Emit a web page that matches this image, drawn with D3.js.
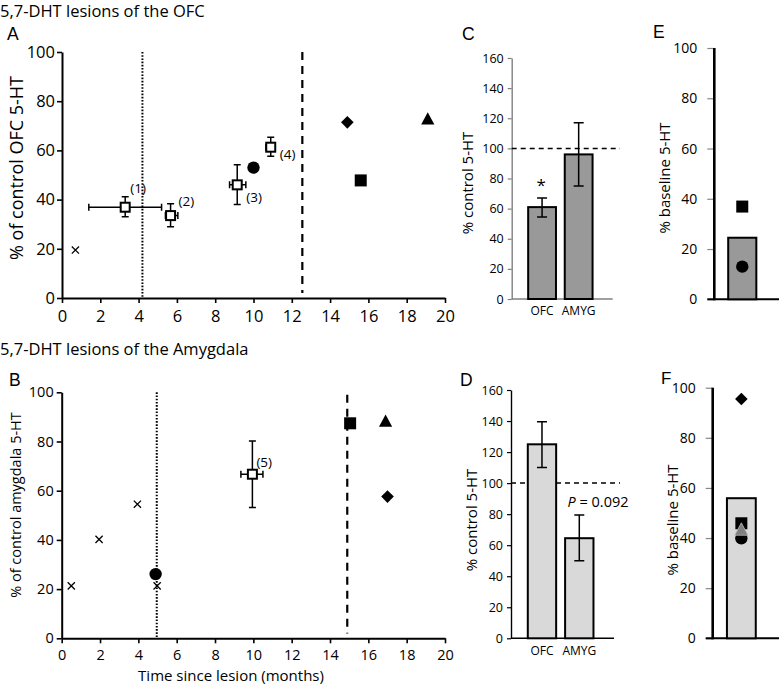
<!DOCTYPE html>
<html><head><meta charset="utf-8">
<script src="https://cdn.jsdelivr.net/npm/d3@7"></script>
<style>
body{margin:0;background:#fff}
svg{display:block}
text{font-family:'Open Sans',sans-serif;fill:#000}
.letter{font-family:'Liberation Sans',Arial,sans-serif}
</style>
</head><body><svg id="c" width="780" height="693"></svg>
<script>
// ---------------- DATA ----------------
const timeTicks = [0,2,4,6,8,10,12,14,16,18,20];
const pctTicks = [0,20,40,60,80,100];
const barTicks = [0,20,40,60,80,100,120,140,160];

const aCrosses = [{t:0.7, v:19.5}];
const aStudies = [
  {label:"(1)", t:3.3,  v:36.9, tLo:1.4,  tHi:5.2,  vLo:33.0, vHi:41.2},
  {label:"(2)", t:5.67, v:33.5, tLo:5.4,  tHi:6.05, vLo:29.0, vHi:38.3},
  {label:"(3)", t:9.15, v:46.0, tLo:8.75, tHi:9.6,  vLo:38.0, vHi:54.2},
  {label:"(4)", t:10.9, v:61.3, tLo:10.65,tHi:11.1, vLo:57.6, vHi:65.3}
];
const aFilled = [
  {shape:"circle",  t:10.0, v:53.0},
  {shape:"diamond", t:14.9, v:71.4},
  {shape:"square",  t:15.6, v:47.8},
  {shape:"triangle",t:19.1, v:73.0}
];
const aDotted = 4.2, aDashed = 12.55;

const bCrosses = [{t:0.5,v:21.3},{t:1.95,v:40.2},{t:3.95,v:54.5},{t:4.98,v:21.3}];
const bStudies = [{label:"(5)", t:9.95, v:66.7, tLo:9.35, tHi:10.5, vLo:53.2, vHi:80.2}];
const bFilled = [
  {shape:"circle",  t:4.9,  v:26.1},
  {shape:"square",  t:15.05,v:87.4},
  {shape:"triangle",t:16.9, v:88.5},
  {shape:"diamond", t:17.0, v:57.6}
];
const bDotted = 4.96, bDashed = 14.9;

const regions = ["OFC","AMYG"];
const cMeans = [61, 96],   cLo = [54.5, 75],  cHi = [67, 117];
const dMeans = [125, 64.5], dLo = [110, 50],  dHi = [139.5, 79.5];
const controlLevel = 100;

const eBar = 24.5;
const ePoints = [{shape:"square",v:36.9},{shape:"circle",v:13.0}];
const fBar = 55.9;
const fPoints = [{shape:"diamond",v:95.5},{shape:"square",v:45.9},{shape:"circle",v:39.9},{shape:"triangle",v:43.6,gray:true}];

// ---------------- DRAW ----------------
const svg = d3.select("#c");

function marker(g, shape, cx, cy, fill, stroke) {
  fill = fill || "#000";
  if (shape === "circle") {
    g.append("circle").attr("cx",cx).attr("cy",cy).attr("r",6.2).attr("fill",fill);
  } else if (shape === "square") {
    g.append("rect").attr("x",cx-6).attr("y",cy-6).attr("width",12).attr("height",12).attr("fill",fill);
  } else if (shape === "diamond") {
    const h = 6.3;
    g.append("path").attr("d",`M${cx},${cy-h}L${cx+h},${cy}L${cx},${cy+h}L${cx-h},${cy}Z`).attr("fill",fill);
  } else if (shape === "triangle") {
    const w = 6.6, hh = 6.2;
    g.append("path").attr("d",`M${cx},${cy-hh}L${cx+w},${cy+hh}L${cx-w},${cy+hh}Z`).attr("fill",fill)
      .attr("stroke",stroke||"none").attr("stroke-width",stroke?0.8:0);
  }
}
function cross(g, cx, cy) {
  const h = 3.6;
  g.append("path").attr("d",`M${cx-h},${cy-h}L${cx+h},${cy+h}M${cx-h},${cy+h}L${cx+h},${cy-h}`)
    .attr("stroke","#000").attr("stroke-width",1.3).attr("fill","none");
}

function scatterPanel(o) {
  const x = d3.scaleLinear().domain([0,20]).range([o.x0, o.x1]);
  const y = d3.scaleLinear().domain([0,100]).range([o.y0, o.y1]);
  const g = svg.append("g");
  g.append("line").attr("x1",x(o.dotted)).attr("x2",x(o.dotted)).attr("y1",y(100)).attr("y2",y(0))
    .attr("stroke","#000").attr("stroke-width",2).attr("stroke-dasharray","1.6,1.6");
  g.append("line").attr("x1",x(o.dashed)).attr("x2",x(o.dashed)).attr("y1",y(o.dashTop)).attr("y2",y(2))
    .attr("stroke","#000").attr("stroke-width",2.2).attr("stroke-dasharray","8,6");
  const ax = g.append("g").attr("transform",`translate(0,${o.y0})`)
    .call(d3.axisBottom(x).tickValues(timeTicks).tickSize(5).tickPadding(o.xPad).tickSizeOuter(0));
  const ay = g.append("g").attr("transform",`translate(${o.x0},0)`)
    .call(d3.axisLeft(y).tickValues(pctTicks).tickSize(5).tickPadding(o.yPad).tickSizeOuter(0));
  [ax,ay].forEach(a=>{
    a.select(".domain").attr("stroke","#000").attr("stroke-width",2);
    a.selectAll(".tick line").attr("stroke","#000").attr("stroke-width",1.6);
    a.selectAll(".tick text").style("font-family","'Open Sans',sans-serif").style("font-size",o.tickFont+"px").attr("fill","#222");
  });
  o.crosses.forEach(d=>cross(g, x(d.t), y(d.v)));
  o.studies.forEach((d,i)=>{
    const cx=x(d.t), cy=y(d.v);
    const eb = g.append("g").attr("stroke","#000").attr("stroke-width",1.5).attr("fill","none");
    eb.append("path").attr("d",`M${cx},${y(d.vLo)}V${y(d.vHi)}M${cx-3.5},${y(d.vLo)}H${cx+3.5}M${cx-3.5},${y(d.vHi)}H${cx+3.5}`);
    eb.append("path").attr("d",`M${x(d.tLo)},${cy}H${x(d.tHi)}M${x(d.tLo)},${cy-3.5}V${cy+3.5}M${x(d.tHi)},${cy-3.5}V${cy+3.5}`);
    g.append("rect").attr("x",cx-4.5).attr("y",cy-4.5).attr("width",9).attr("height",9)
      .attr("fill","#fff").attr("stroke","#000").attr("stroke-width",2);
    const off = o.labelOff[i];
    g.append("text").attr("x",cx+off[0]).attr("y",cy+off[1]).attr("dy","0.35em")
      .style("font-size","13.5px").text(d.label);
  });
  o.filled.forEach(d=>marker(g, d.shape, x(d.t), y(d.v)));
  return {x,y,g};
}

scatterPanel({x0:62,x1:445,y0:298,y1:52,dotted:aDotted,dashed:aDashed,dashTop:100,tickFont:16.5,xPad:7,yPad:2,
  crosses:aCrosses,studies:aStudies,filled:aFilled,
  labelOff:[[5,-19],[8,-14],[9,12],[9,7]]});
scatterPanel({x0:61.7,x1:445,y0:638.3,y1:392.3,dotted:bDotted,dashed:bDashed,dashTop:99,tickFont:14.5,xPad:6,yPad:3,
  crosses:bCrosses,studies:bStudies,filled:bFilled,
  labelOff:[[4,-12]]});

function barPanel(o) {
  const x = d3.scaleBand().domain(regions).range([o.ax, o.axEnd]).paddingInner(0.24).paddingOuter(0.5).align(0.45);
  const y = d3.scaleLinear().domain([0,160]).range([o.y0, o.y1]);
  const g = svg.append("g");
  const ay = g.append("g").attr("transform",`translate(${o.ax},0)`)
    .call(d3.axisLeft(y).tickValues(barTicks).tickSize(4).tickPadding(4).tickSizeOuter(0));
  ay.select(".domain").attr("stroke",o.axisColor).attr("stroke-width",1.4);
  ay.selectAll(".tick line").attr("stroke",o.axisColor).attr("stroke-width",1.2);
  ay.selectAll(".tick text").style("font-family","'Open Sans',sans-serif").style("font-size","12.5px").attr("fill","#222");
  g.append("line").attr("x1",o.ax).attr("x2",o.axEnd).attr("y1",o.y0).attr("y2",o.y0)
    .attr("stroke",o.axisColor).attr("stroke-width",1.4);
  g.append("line").attr("x1",o.ax).attr("x2",o.dashEnd).attr("y1",y(controlLevel)).attr("y2",y(controlLevel))
    .attr("stroke","#000").attr("stroke-width",1.5).attr("stroke-dasharray","5,4");
  g.selectAll(".bar").data(regions).join("rect")
    .attr("x",d=>x(d)).attr("width",x.bandwidth())
    .attr("y",(d,i)=>y(o.means[i])).attr("height",(d,i)=>y(0)-y(o.means[i]))
    .attr("fill",o.fill).attr("stroke","#000").attr("stroke-width",2);
  regions.forEach((r,i)=>{
    const cx = x(r)+x.bandwidth()/2;
    g.append("path").attr("d",`M${cx},${y(o.lo[i])}V${y(o.hi[i])}M${cx-5},${y(o.lo[i])}H${cx+5}M${cx-5},${y(o.hi[i])}H${cx+5}`)
      .attr("stroke","#000").attr("stroke-width",1.5).attr("fill","none");
    g.append("text").attr("x",cx).attr("y",o.y0+12).attr("dy","0.35em").attr("text-anchor","middle")
      .style("font-size","12px").text(r);
  });
  return {x,y,g};
}

const C = barPanel({ax:511.7,axEnd:612.7,y0:299,y1:58,axisColor:"#808080",fill:"#999999",dashEnd:620,
  means:cMeans,lo:cLo,hi:cHi});
C.g.append("text").attr("x",C.x("OFC")+C.x.bandwidth()/2-1).attr("y",C.y(cHi[0])-13).attr("dy","0.35em")
  .attr("text-anchor","middle").style("font-size","17px").text("*");

const D = barPanel({ax:511,axEnd:614,y0:638.3,y1:390,axisColor:"#000",fill:"#d9d9d9",dashEnd:620,
  means:dMeans,lo:dLo,hi:dHi});
const pt = D.g.append("text").attr("x",567.5).attr("y",D.y(controlLevel)+19).attr("dy","0.35em")
  .style("font-size","14.5px");
pt.append("tspan").style("font-style","italic").text("P");
pt.append("tspan").text(" = 0.092");

function basePanel(o) {
  const x = d3.scaleBand().domain(["all"]).range([o.ax, 779]).paddingInner(0).paddingOuter(0.65).align(0.38);
  const y = d3.scaleLinear().domain([0,100]).range([o.y0, o.y1]);
  const g = svg.append("g");
  const ay = g.append("g").attr("transform",`translate(${o.ax},0)`)
    .call(d3.axisLeft(y).tickValues(pctTicks).tickSize(7).tickPadding(10).tickSizeOuter(0));
  ay.select(".domain").remove();
  ay.selectAll(".tick line").attr("stroke","#888").attr("stroke-width",1.2);
  ay.selectAll(".tick text").style("font-family","'Open Sans',sans-serif").style("font-size","14px").attr("fill","#222");
  g.append("line").attr("x1",o.ax-7).attr("x2",779).attr("y1",o.y0).attr("y2",o.y0).attr("stroke","#000").attr("stroke-width",2);
  g.append("line").attr("x1",o.ax).attr("x2",o.ax).attr("y1",y(100)).attr("y2",o.y0+1).attr("stroke","#000").attr("stroke-width",2.6);
  g.append("rect").attr("x",x("all")).attr("width",x.bandwidth()).attr("y",y(o.bar)).attr("height",y(0)-y(o.bar))
    .attr("fill",o.fill).attr("stroke","#000").attr("stroke-width",2);
  const cx = x("all")+x.bandwidth()/2;
  o.points.forEach(p=>marker(g, p.shape, cx, y(p.v), p.gray?"#7f7f7f":"#000", p.gray?"#bbb":null));
  return {x,y,g};
}
basePanel({ax:714.3,y0:299.3,y1:48,bar:eBar,points:ePoints,fill:"#999999"});
basePanel({ax:712.7,y0:638.3,y1:387.7,bar:fBar,points:fPoints,fill:"#d9d9d9"});

// ---------------- TEXT ----------------
function txt(x,y,s,size,cls,anchor){
  return svg.append("text").attr("x",x).attr("y",y).attr("class",cls||null)
    .attr("text-anchor",anchor||"start").style("font-size",size+"px").text(s);
}
function vtxt(cx,cy,s,size){
  return svg.append("text").attr("transform",`translate(${cx},${cy}) rotate(-90)`).attr("text-anchor","middle")
    .attr("dy","0.35em").style("font-size",size+"px").text(s);
}
txt(0,17,"5,7-DHT lesions of the OFC",16.5);
txt(0,355,"5,7-DHT lesions of the Amygdala",16.5);
txt(7,40,"A",17.5,"letter");
txt(9,386,"B",17.5,"letter");
txt(462,40,"C",17.5,"letter");
txt(460,386,"D",17.5,"letter");
txt(653,38,"E",17.5,"letter");
txt(661,384,"F",17,"letter");
vtxt(17,168,"% of control OFC 5-HT",18);
vtxt(16,505,"% of control amygdala 5-HT",14.5);
vtxt(468,183,"% control 5-HT",15);
vtxt(472,520,"% control 5-HT",15);
vtxt(665,178,"% baseline 5-HT",15);
vtxt(673,520,"% baseline 5-HT",15);
txt(231,681,"Time since lesion (months)",15,null,"middle");
</script>
</body></html>
